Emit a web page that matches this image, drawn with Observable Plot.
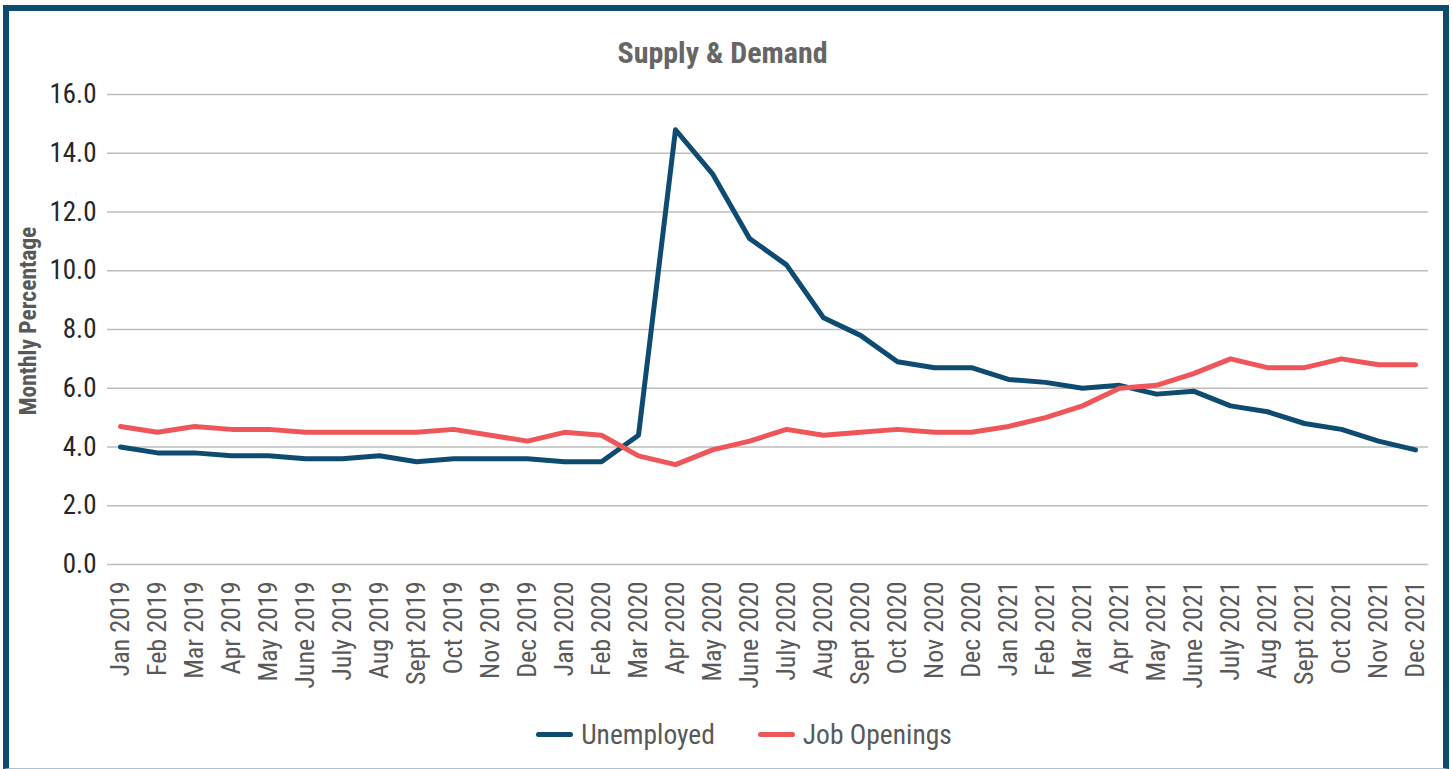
<!DOCTYPE html>
<html>
<head>
<meta charset="utf-8">
<script src="https://cdn.jsdelivr.net/npm/d3@7"></script>
<script src="https://cdn.jsdelivr.net/npm/@observablehq/plot@0.6"></script>
<style>
  html, body { margin: 0; padding: 0; background: #fff; }
  body { width: 1452px; height: 769px; position: relative; overflow: hidden; font-family: "Roboto Condensed", Roboto, sans-serif; font-stretch: condensed; }
  #frame { position: absolute; left: 3px; top: 5px; width: 1446px; height: 764px; box-sizing: border-box;
    border-left: 6px solid #0d4b70; border-top: 6px solid #0d4b70; border-right: 6px solid #0d4b70; border-bottom: 1px solid #a9c3d3; pointer-events: none; }
  #title { position: absolute; top: 35px; left: 0; width: 1445px; text-align: center; font-weight: 700; font-size: 30px; color: #666666; }
  #ylabel { position: absolute; left: 28px; top: 321px; transform: translate(-50%, -50%) rotate(-90deg); white-space: nowrap; font-weight: 700; font-size: 23.5px; color: #595959; }
  #legend { position: absolute; top: 718px; left: 0; width: 1488px; display: flex; justify-content: center; gap: 43px; font-size: 27.5px; color: #595959; }
  .item { display: flex; align-items: center; gap: 8px; }
  .sw { width: 37px; height: 5px; border-radius: 3px; }
  #chart { position: absolute; left: 0; top: 0; }
  #chart svg text { font-family: "Roboto Condensed", Roboto, sans-serif; font-stretch: condensed; }
</style>
</head>
<body>
<div id="chart"></div>
<div id="title">Supply &amp; Demand</div>
<div id="ylabel">Monthly Percentage</div>
<div id="legend"></div>
<div id="frame"></div>
<script>
const months = ["Jan 2019","Feb 2019","Mar 2019","Apr 2019","May 2019","June 2019","July 2019","Aug 2019","Sept 2019","Oct 2019","Nov 2019","Dec 2019",
  "Jan 2020","Feb 2020","Mar 2020","Apr 2020","May 2020","June 2020","July 2020","Aug 2020","Sept 2020","Oct 2020","Nov 2020","Dec 2020",
  "Jan 2021","Feb 2021","Mar 2021","Apr 2021","May 2021","June 2021","July 2021","Aug 2021","Sept 2021","Oct 2021","Nov 2021","Dec 2021"];
const unemployed = [4.0,3.8,3.8,3.7,3.7,3.6,3.6,3.7,3.5,3.6,3.6,3.6,
  3.5,3.5,4.4,14.8,13.3,11.1,10.2,8.4,7.8,6.9,6.7,6.7,
  6.3,6.2,6.0,6.1,5.8,5.9,5.4,5.2,4.8,4.6,4.2,3.9];
const jobOpenings = [4.7,4.5,4.7,4.6,4.6,4.5,4.5,4.5,4.5,4.6,4.4,4.2,
  4.5,4.4,3.7,3.4,3.9,4.2,4.6,4.4,4.5,4.6,4.5,4.5,
  4.7,5.0,5.4,6.0,6.1,6.5,7.0,6.7,6.7,7.0,6.8,6.8];
const yTicks = [0,2,4,6,8,10,12,14,16];
const seriesNames = ["Unemployed", "Job Openings"];
const seriesColors = ["#0d4b70", "#ef5659"];

const table = [];
months.forEach((m, i) => {
  table.push({month: m, value: unemployed[i], series: seriesNames[0]});
  table.push({month: m, value: jobOpenings[i], series: seriesNames[1]});
});

const chart = Plot.plot({
  width: 1452,
  height: 700,
  marginTop: 94,
  marginBottom: 136,
  marginLeft: 107,
  marginRight: 24,
  x: {type: "point", domain: months, padding: 0.324, label: null},
  y: {domain: [0, 16], label: null},
  color: {domain: seriesNames, range: seriesColors},
  style: {fontSize: "23px", color: "#595959", background: "transparent"},
  marks: [
    Plot.ruleY(yTicks, {stroke: "#bdbdbd", strokeWidth: 1.5}),
    Plot.axisY({ticks: yTicks, tickSize: 0, tickPadding: 11, tickFormat: d => d.toFixed(1), fill: "#262626", fontSize: 27}),
    Plot.axisX({tickSize: 0, tickRotate: -90, tickPadding: 17, fill: "#595959", fontSize: 26}),
    Plot.lineY(table.filter(d => d.series === seriesNames[0]), {x: "month", y: "value", stroke: "series", strokeWidth: 5, strokeLinecap: "round", strokeLinejoin: "round"}),
    Plot.lineY(table.filter(d => d.series === seriesNames[1]), {x: "month", y: "value", stroke: "series", strokeWidth: 5, strokeLinecap: "round", strokeLinejoin: "round"})
  ]
});
document.getElementById("chart").appendChild(chart);

const legend = document.getElementById("legend");
seriesNames.forEach((name, i) => {
  const it = document.createElement("div");
  it.className = "item";
  const sw = document.createElement("div");
  sw.className = "sw";
  sw.style.background = seriesColors[i];
  const t = document.createElement("span");
  t.textContent = name;
  it.appendChild(sw); it.appendChild(t);
  legend.appendChild(it);
});
</script>
</body>
</html>
